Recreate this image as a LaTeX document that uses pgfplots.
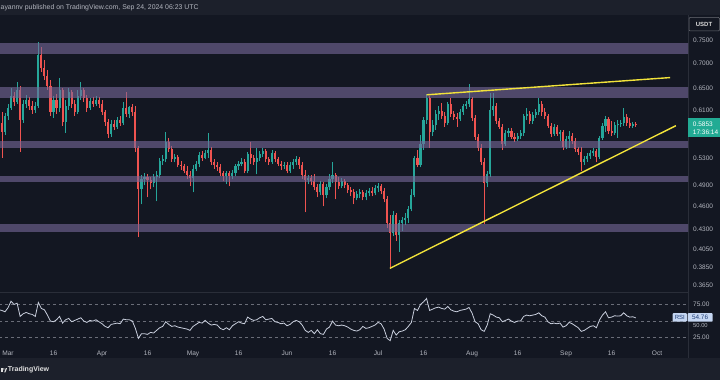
\documentclass[border=0pt]{standalone}
\usepackage{pgfplots}
\pgfplotsset{compat=1.18}
\usepackage{pgfplotstable}
\usepackage{fontspec}
\setmainfont{Liberation Sans}
\definecolor{bg}{HTML}{131722}
\definecolor{barbg}{HTML}{1C202B}
\definecolor{tvgreen}{HTML}{26A69A}
\definecolor{tvred}{HTML}{EF5350}
\definecolor{band}{HTML}{776A9A}
\definecolor{tvyellow}{HTML}{F2E33A}
\definecolor{txt}{HTML}{B2B5BE}
\definecolor{rsiline}{HTML}{C9CFDD}
\definecolor{dashc}{HTML}{6A6D78}
\definecolor{pricebox}{HTML}{22AB94}
\definecolor{rsibox}{HTML}{C5D6F2}
\definecolor{rsitext}{HTML}{1F3D75}
\definecolor{sep}{HTML}{2A2E39}

\pgfplotstableread{
d O H L C
-2 0.5881 0.6074 0.5308 0.5728
-1 0.5728 0.6056 0.5678 0.6003
0 0.6003 0.6217 0.5933 0.6146
1 0.6146 0.6516 0.6110 0.6365
2 0.6365 0.6440 0.6182 0.6254
3 0.6254 0.6632 0.6217 0.6478
4 0.6478 0.6555 0.5402 0.5933
5 0.5933 0.6291 0.5881 0.6217
6 0.6217 0.6384 0.6146 0.6291
7 0.6291 0.6347 0.6110 0.6182
8 0.6182 0.6272 0.6039 0.6110
9 0.6110 0.6254 0.6056 0.6182
10 0.6182 0.7456 0.6146 0.7177
11 0.7177 0.7348 0.6829 0.6909
12 0.6909 0.7073 0.6671 0.6749
13 0.6749 0.6869 0.6478 0.6555
14 0.6555 0.6671 0.6003 0.6074
15 0.6074 0.6365 0.5968 0.6291
16 0.6291 0.6402 0.6039 0.6146
17 0.6146 0.6710 0.6074 0.6478
18 0.6478 0.6516 0.5830 0.5898
19 0.5898 0.6291 0.5712 0.6182
20 0.6182 0.6516 0.6110 0.6440
21 0.6440 0.6478 0.6146 0.6217
22 0.6217 0.6291 0.6003 0.6074
23 0.6074 0.6478 0.6039 0.6365
24 0.6365 0.6632 0.6291 0.6478
25 0.6478 0.6516 0.6254 0.6328
26 0.6328 0.6384 0.6074 0.6146
27 0.6146 0.6328 0.6110 0.6272
28 0.6272 0.6347 0.6164 0.6217
29 0.6217 0.6365 0.6182 0.6291
30 0.6291 0.6347 0.6146 0.6217
31 0.6217 0.6291 0.6021 0.6074
32 0.6074 0.6110 0.5830 0.5898
33 0.5898 0.5951 0.5628 0.5695
34 0.5695 0.5933 0.5645 0.5864
35 0.5864 0.5933 0.5762 0.5813
36 0.5813 0.5986 0.5779 0.5933
37 0.5933 0.6003 0.5830 0.5881
38 0.5881 0.6254 0.5847 0.6146
39 0.6146 0.6440 0.5986 0.6039
40 0.6039 0.6182 0.5968 0.6164
41 0.6164 0.6217 0.6003 0.6074
42 0.6074 0.6182 0.5402 0.5466
43 0.5466 0.5498 0.4200 0.4834
44 0.4834 0.5036 0.4626 0.4978
45 0.4978 0.5066 0.4891 0.5007
46 0.5007 0.5051 0.4722 0.4963
47 0.4963 0.5007 0.4834 0.4920
48 0.4920 0.5051 0.4862 0.5007
49 0.5007 0.5095 0.4667 0.5036
50 0.5036 0.5308 0.4992 0.5262
51 0.5262 0.5355 0.5201 0.5293
52 0.5293 0.5728 0.5232 0.5563
53 0.5563 0.5628 0.5402 0.5450
54 0.5450 0.5498 0.5247 0.5293
55 0.5293 0.5371 0.5232 0.5324
56 0.5324 0.5355 0.5156 0.5201
57 0.5201 0.5262 0.5125 0.5171
58 0.5171 0.5216 0.5066 0.5110
59 0.5110 0.5171 0.4978 0.5036
60 0.5036 0.5095 0.4877 0.4992
61 0.4992 0.5186 0.4792 0.5140
62 0.5140 0.5262 0.5095 0.5216
63 0.5216 0.5402 0.5156 0.5355
64 0.5355 0.5418 0.5262 0.5308
65 0.5308 0.5434 0.5278 0.5386
66 0.5386 0.5712 0.5308 0.5434
67 0.5434 0.5482 0.5201 0.5247
68 0.5247 0.5293 0.5140 0.5186
69 0.5186 0.5247 0.5110 0.5156
70 0.5156 0.5216 0.5021 0.5066
71 0.5066 0.5110 0.4949 0.5021
72 0.5021 0.5095 0.4905 0.5066
73 0.5066 0.5110 0.4877 0.5021
74 0.5021 0.5125 0.4978 0.5080
75 0.5080 0.5216 0.5021 0.5171
76 0.5171 0.5262 0.5125 0.5216
77 0.5216 0.5308 0.5171 0.5247
78 0.5247 0.5278 0.5066 0.5110
79 0.5110 0.5402 0.5066 0.5371
80 0.5371 0.5563 0.5216 0.5308
81 0.5308 0.5355 0.5201 0.5247
82 0.5247 0.5466 0.5051 0.5308
83 0.5308 0.5418 0.5262 0.5371
84 0.5371 0.5466 0.5324 0.5418
85 0.5418 0.5450 0.5232 0.5278
86 0.5278 0.5324 0.5201 0.5247
87 0.5247 0.5434 0.5216 0.5386
88 0.5386 0.5418 0.5232 0.5278
89 0.5278 0.5324 0.5171 0.5216
90 0.5216 0.5262 0.5125 0.5171
91 0.5171 0.5247 0.5140 0.5201
92 0.5201 0.5232 0.5066 0.5110
93 0.5110 0.5232 0.5080 0.5186
94 0.5186 0.5278 0.5140 0.5247
95 0.5247 0.5339 0.5201 0.5293
96 0.5293 0.5324 0.5140 0.5186
97 0.5186 0.5232 0.4978 0.5036
98 0.5036 0.5125 0.4519 0.4963
99 0.4963 0.5036 0.4905 0.4992
100 0.4992 0.5036 0.4891 0.4949
101 0.4949 0.5051 0.4820 0.4862
102 0.4862 0.4905 0.4722 0.4792
103 0.4792 0.4949 0.4750 0.4905
104 0.4905 0.4934 0.4599 0.4750
105 0.4750 0.4905 0.4708 0.4862
106 0.4862 0.5051 0.4820 0.4978
107 0.4978 0.5232 0.4920 0.5036
108 0.5036 0.5066 0.4695 0.4934
109 0.4934 0.5007 0.4834 0.4877
110 0.4877 0.4992 0.4848 0.4949
111 0.4949 0.4978 0.4848 0.4891
112 0.4891 0.4920 0.4778 0.4820
113 0.4820 0.4862 0.4736 0.4792
114 0.4792 0.4834 0.4626 0.4708
115 0.4708 0.4806 0.4681 0.4764
116 0.4764 0.4834 0.4708 0.4792
117 0.4792 0.4820 0.4681 0.4722
118 0.4722 0.4820 0.4681 0.4778
119 0.4778 0.4848 0.4736 0.4806
120 0.4806 0.4862 0.4736 0.4778
121 0.4778 0.4891 0.4750 0.4848
122 0.4848 0.4920 0.4792 0.4877
123 0.4877 0.4905 0.4764 0.4806
124 0.4806 0.4848 0.4654 0.4695
125 0.4695 0.4736 0.4312 0.4376
126 0.4376 0.4480 0.3825 0.4250
127 0.4250 0.4532 0.4212 0.4480
128 0.4480 0.4506 0.4151 0.4225
129 0.4225 0.4415 0.4020 0.4376
130 0.4376 0.4454 0.4275 0.4415
131 0.4415 0.4506 0.4350 0.4441
132 0.4441 0.4599 0.4376 0.4559
133 0.4559 0.4834 0.4532 0.4750
134 0.4750 0.5339 0.4722 0.5308
135 0.5308 0.5434 0.5156 0.5201
136 0.5201 0.5678 0.5156 0.5530
137 0.5530 0.5986 0.5434 0.5933
138 0.5933 0.6402 0.5864 0.6328
139 0.6328 0.6365 0.5466 0.5728
140 0.5728 0.5933 0.5661 0.5847
141 0.5847 0.6110 0.5762 0.6039
142 0.6039 0.6182 0.5933 0.6092
143 0.6092 0.6236 0.5951 0.6003
144 0.6003 0.6074 0.5813 0.5881
145 0.5881 0.6254 0.5847 0.6217
146 0.6217 0.6328 0.5986 0.6039
147 0.6039 0.6092 0.5933 0.5986
148 0.5986 0.6056 0.5813 0.5951
149 0.5951 0.6127 0.5916 0.6074
150 0.6074 0.6217 0.6021 0.6182
151 0.6182 0.6272 0.6127 0.6217
152 0.6217 0.6593 0.6164 0.6309
153 0.6309 0.6347 0.5916 0.5968
154 0.5968 0.6021 0.5596 0.5645
155 0.5645 0.5695 0.5418 0.5466
156 0.5466 0.5530 0.5201 0.5247
157 0.5247 0.5308 0.4363 0.4920
158 0.4920 0.5095 0.4862 0.5051
159 0.5051 0.6421 0.5007 0.6110
160 0.6110 0.6421 0.6003 0.6182
161 0.6182 0.6236 0.5864 0.5916
162 0.5916 0.5968 0.5779 0.5813
163 0.5813 0.5864 0.5434 0.5530
164 0.5530 0.5762 0.5498 0.5712
165 0.5712 0.5796 0.5645 0.5745
166 0.5745 0.5796 0.5612 0.5645
167 0.5645 0.5712 0.5563 0.5612
168 0.5612 0.5712 0.5579 0.5661
169 0.5661 0.5762 0.5612 0.5712
170 0.5712 0.6039 0.5661 0.6003
171 0.6003 0.6146 0.5933 0.6039
172 0.6039 0.6092 0.5864 0.5916
173 0.5916 0.6074 0.5864 0.6021
174 0.6021 0.6127 0.5968 0.6074
175 0.6074 0.6328 0.6021 0.6217
176 0.6217 0.6272 0.6003 0.6074
177 0.6074 0.6146 0.5951 0.6003
178 0.6003 0.6039 0.5796 0.5830
179 0.5830 0.5881 0.5645 0.5695
180 0.5695 0.5864 0.5661 0.5813
181 0.5813 0.5847 0.5661 0.5695
182 0.5695 0.5762 0.5579 0.5728
183 0.5728 0.5762 0.5434 0.5482
184 0.5482 0.5661 0.5450 0.5612
185 0.5612 0.5745 0.5466 0.5661
186 0.5661 0.5712 0.5530 0.5579
187 0.5579 0.5628 0.5402 0.5450
188 0.5450 0.5482 0.5355 0.5402
189 0.5402 0.5482 0.5095 0.5247
190 0.5247 0.5339 0.5201 0.5293
191 0.5293 0.5386 0.5247 0.5339
192 0.5339 0.5434 0.5293 0.5386
193 0.5386 0.5466 0.5339 0.5418
194 0.5418 0.5450 0.5232 0.5324
195 0.5324 0.5661 0.5293 0.5628
196 0.5628 0.5881 0.5596 0.5830
197 0.5830 0.6003 0.5728 0.5951
198 0.5951 0.5986 0.5695 0.5745
199 0.5745 0.5916 0.5661 0.5712
200 0.5712 0.5898 0.5678 0.5847
201 0.5847 0.5933 0.5628 0.5864
202 0.5864 0.5933 0.5813 0.5881
203 0.5881 0.6146 0.5830 0.5986
204 0.5986 0.6039 0.5830 0.5881
205 0.5881 0.5968 0.5796 0.5830
206 0.5830 0.5898 0.5796 0.5864
207 0.5864 0.5898 0.5813 0.5853
}\candles

\pgfplotstableread{
d r
-3 67
-2 66
-1 64
0 70
1 80
2 75
3 77
4 57
5 61
6 63
7 61
8 60
9 57
10 78
11 69
12 67
13 59
14 50
15 49
16 52
17 57
18 47
19 52
20 54
21 49
22 51
23 53
24 55
25 50
26 48
27 51
28 50
29 52
30 49
31 46
32 42
33 40
34 45
35 46
36 47
37 46
38 53
39 52
40 52
41 50
42 39
43 24
44 31
45 31
46 30
47 33
48 32
49 36
50 40
51 42
52 49
53 45
54 42
55 43
56 41
57 40
58 39
59 38
60 36
61 42
62 45
63 48
64 47
65 51
66 47
67 44
68 45
69 44
70 39
71 37
72 40
73 37
74 43
75 46
76 49
77 47
78 46
79 56
80 53
81 51
82 52
83 55
84 57
85 52
86 53
87 54
88 49
89 48
90 46
91 47
92 43
93 45
94 49
95 51
96 49
97 44
98 36
99 33
100 36
101 31
102 37
103 31
104 30
105 38
106 41
107 50
108 44
109 43
110 44
111 43
112 41
113 38
114 36
115 35
116 37
117 42
118 39
119 40
120 42
121 44
122 48
123 46
124 38
125 24
126 20.5
127 36
128 29
129 34
130 35
131 37
132 42
133 48
134 69
135 66
136 75
137 79
138 84
139 66
140 68
141 70
142 71
143 69
144 68
145 72
146 67
147 65
148 64
149 66
150 67
151 68
152 70.5
153 62
154 49
155 46
156 37
157 34.5
158 44
159 61
160 59
161 56
162 55
163 49
164 51
165 53
166 50
167 48
168 50
169 50
170 57
171 59
172 58
173 59
174 60
175 62.5
176 58
177 56
178 49
179 46
180 47
181 46
182 47
183 41
184 43
185 48
186 46
187 43
188 40
189 34.5
190 36
191 39
192 42
193 43
194 40
195 51.5
196 59
197 64
198 55
199 56
200 58
201 57.5
202 58
203 62.5
204 58
205 56
206 56.5
207 54.76
}\rsidata

\newcommand{\tickfont}{\fontsize{6.5}{7}\selectfont}

\begin{document}
\begin{tikzpicture}[x=1pt,y=1pt]
\useasboundingbox (0,0) rectangle (720,380);
\fill[bg] (0,0) rectangle (720,380);
\fill[barbg] (0,365) rectangle (720,380);
\fill[barbg] (0,0) rectangle (720,22);
\draw[sep, line width=0.5pt] (0,88) -- (688,88);
\draw[sep, line width=0.5pt] (688,22) -- (688,365);

% build candle paths from the table
\gdef\wup{}\gdef\wdn{}\gdef\bup{}\gdef\bdn{}
\pgfplotstablegetrowsof{\candles}
\pgfmathtruncatemacro{\N}{\pgfplotsretval-1}
\foreach \i in {0,...,\N}{%
  \pgfplotstablegetelem{\i}{d}\of\candles \let\cd\pgfplotsretval
  \pgfplotstablegetelem{\i}{O}\of\candles \let\cO\pgfplotsretval
  \pgfplotstablegetelem{\i}{H}\of\candles \let\cH\pgfplotsretval
  \pgfplotstablegetelem{\i}{L}\of\candles \let\cL\pgfplotsretval
  \pgfplotstablegetelem{\i}{C}\of\candles \let\cC\pgfplotsretval
  \ifdim\cC pt<\cO pt
    \xdef\wdn{\wdn(\cd,\cL)(\cd,\cH)(\cd,nan)}%
    \xdef\bdn{\bdn(\cd,\cO)(\cd,\cC)(\cd,nan)}%
  \else
    \xdef\wup{\wup(\cd,\cL)(\cd,\cH)(\cd,nan)}%
    \xdef\bup{\bup(\cd,\cO)(\cd,\cC)(\cd,nan)}%
  \fi
}

\begin{axis}[
  at={(0pt,88pt)}, anchor=south west, scale only axis,
  width=688pt, height=277pt,
  xmin=-2.64, xmax=224.2,
  ymode=log, ymin=0.3575, ymax=0.8072,
  axis line style={draw=none},
  major tick length=0pt, minor tick length=0pt,
  xtick=\empty,
  ytick={0.75,0.7,0.65,0.61,0.53,0.49,0.46,0.43,0.405,0.385,0.365},
  yticklabels={0.7500,0.7000,0.6500,0.6100,0.5300,0.4900,0.4600,0.4300,0.4050,0.3850,0.3650},
  yticklabel pos=right,
  yticklabel style={font=\tickfont, text=txt, anchor=west, inner sep=0pt, xshift=5pt},
  /pgf/number format/assume math mode=true,
  unbounded coords=jump,
]
\edef\tmp{\noexpand\addplot[draw=tvgreen, line width=0.75pt, forget plot] coordinates {\wup};}\tmp
\edef\tmp{\noexpand\addplot[draw=tvred, line width=0.75pt, forget plot] coordinates {\wdn};}\tmp
\edef\tmp{\noexpand\addplot[draw=tvgreen, line width=2.1pt, line cap=butt, forget plot] coordinates {\bup};}\tmp
\edef\tmp{\noexpand\addplot[draw=tvred, line width=2.1pt, line cap=butt, forget plot] coordinates {\bdn};}\tmp
% support / resistance zones
\addplot[fill=band, fill opacity=0.6, draw=none] coordinates {(-3,0.7198)(225,0.7198)(225,0.7434)(-3,0.7434)} -- cycle;
\addplot[fill=band, fill opacity=0.6, draw=none] coordinates {(-3,0.6328)(225,0.6328)(225,0.6535)(-3,0.6535)} -- cycle;
\addplot[fill=band, fill opacity=0.6, draw=none] coordinates {(-3,0.5466)(225,0.5466)(225,0.5579)(-3,0.5579)} -- cycle;
\addplot[fill=band, fill opacity=0.6, draw=none] coordinates {(-3,0.4934)(225,0.4934)(225,0.5021)(-3,0.5021)} -- cycle;
\addplot[fill=band, fill opacity=0.6, draw=none] coordinates {(-3,0.4262)(225,0.4262)(225,0.4363)(-3,0.4363)} -- cycle;
% trend lines
\addplot[tvyellow, line width=1.4pt] coordinates {(138.0,0.6384)(218.3,0.6716)};
\addplot[tvyellow, line width=1.4pt] coordinates {(125.9,0.3833)(220.2,0.5830)};
\end{axis}

\begin{axis}[
  at={(0pt,35pt)}, anchor=south west, scale only axis,
  width=688pt, height=53pt,
  xmin=-2.64, xmax=224.2, ymin=14, ymax=93.8,
  axis line style={draw=none},
  major tick length=0pt, minor tick length=0pt,
  ytick={25,75}, yticklabels={25.00,75.00},
  yticklabel pos=right,
  yticklabel style={font=\tickfont, text=txt, anchor=west, inner sep=0pt, xshift=5pt},
  xtick={0,15,31,46,61,76,92,107,122,137,153,168,184,199,214},
  xticklabels={Mar,16,Apr,16,May,16,Jun,16,Jul,16,Aug,16,Sep,16,Oct},
  xticklabel style={font=\fontsize{6.6}{7}\selectfont, text=txt, anchor=base, inner sep=0pt, yshift=-10.5pt},
  /pgf/number format/assume math mode=true,
]
\addplot[dashc, line width=0.6pt, dash pattern=on 3pt off 3pt] coordinates {(-3,75)(225,75)};
\addplot[dashc, line width=0.6pt, dash pattern=on 3pt off 3pt] coordinates {(-3,50)(225,50)};
\addplot[dashc, line width=0.6pt, dash pattern=on 3pt off 3pt] coordinates {(-3,25)(225,25)};
\addplot[rsiline, line width=0.8pt] table[x=d, y=r] {\rsidata};
\end{axis}

% header and footer text
\node[anchor=west, inner sep=0pt, text=txt, font=\fontsize{6.9}{7.5}\selectfont] at (0.5,372.5) {ayannv published on TradingView.com, Sep 24, 2024 06:23 UTC};
\fill[white!88!black] (0.6,7.6) rectangle (3.2,11.8);
\fill[white!88!black] (3.9,11) circle (0.75);
\fill[white!88!black] (4.2,7.6) -- (5.8,11.8) -- (7,11.8) -- (5.4,7.6) -- cycle;
\node[anchor=west, inner sep=0pt, text=white!88!black, font=\bfseries\fontsize{7}{8}\selectfont] at (7.8,9.8) {TradingView};

% price scale boxes
\draw[fill=bg, draw=sep!70!white, line width=0.5pt, rounded corners=1pt] (689,349) rectangle (719.5,362.5);
\node[inner sep=0pt, text=white!85!black, font=\bfseries\fontsize{6}{7}\selectfont] at (704,355.8) {USDT};
\fill[pricebox] (688,243.3) rectangle (720,261.7);
\node[anchor=west, inner sep=0pt, text=white, font=\tickfont] at (692.7,255.7) {0.5853};
\node[anchor=west, inner sep=0pt, text=white, font=\tickfont] at (692.7,248) {17:36:14};

% RSI boxes, with the 50.00 scale label just below them
\node[anchor=west, inner sep=0pt, text=txt, font=\fontsize{5.8}{6}\selectfont] at (693,54.3) {50.00};
\fill[rsibox, rounded corners=0.8pt] (672.7,58.4) rectangle (686.8,66.8);
\node[inner sep=0pt, text=rsitext, font=\fontsize{6}{7}\selectfont] at (679.75,62.6) {RSI};
\fill[rsibox, rounded corners=0.8pt] (687.6,58.4) rectangle (712.7,66.8);
\node[inner sep=0pt, text=rsitext, font=\fontsize{6.4}{7}\selectfont] at (700.1,62.6) {54.76};
\end{tikzpicture}
\end{document}
